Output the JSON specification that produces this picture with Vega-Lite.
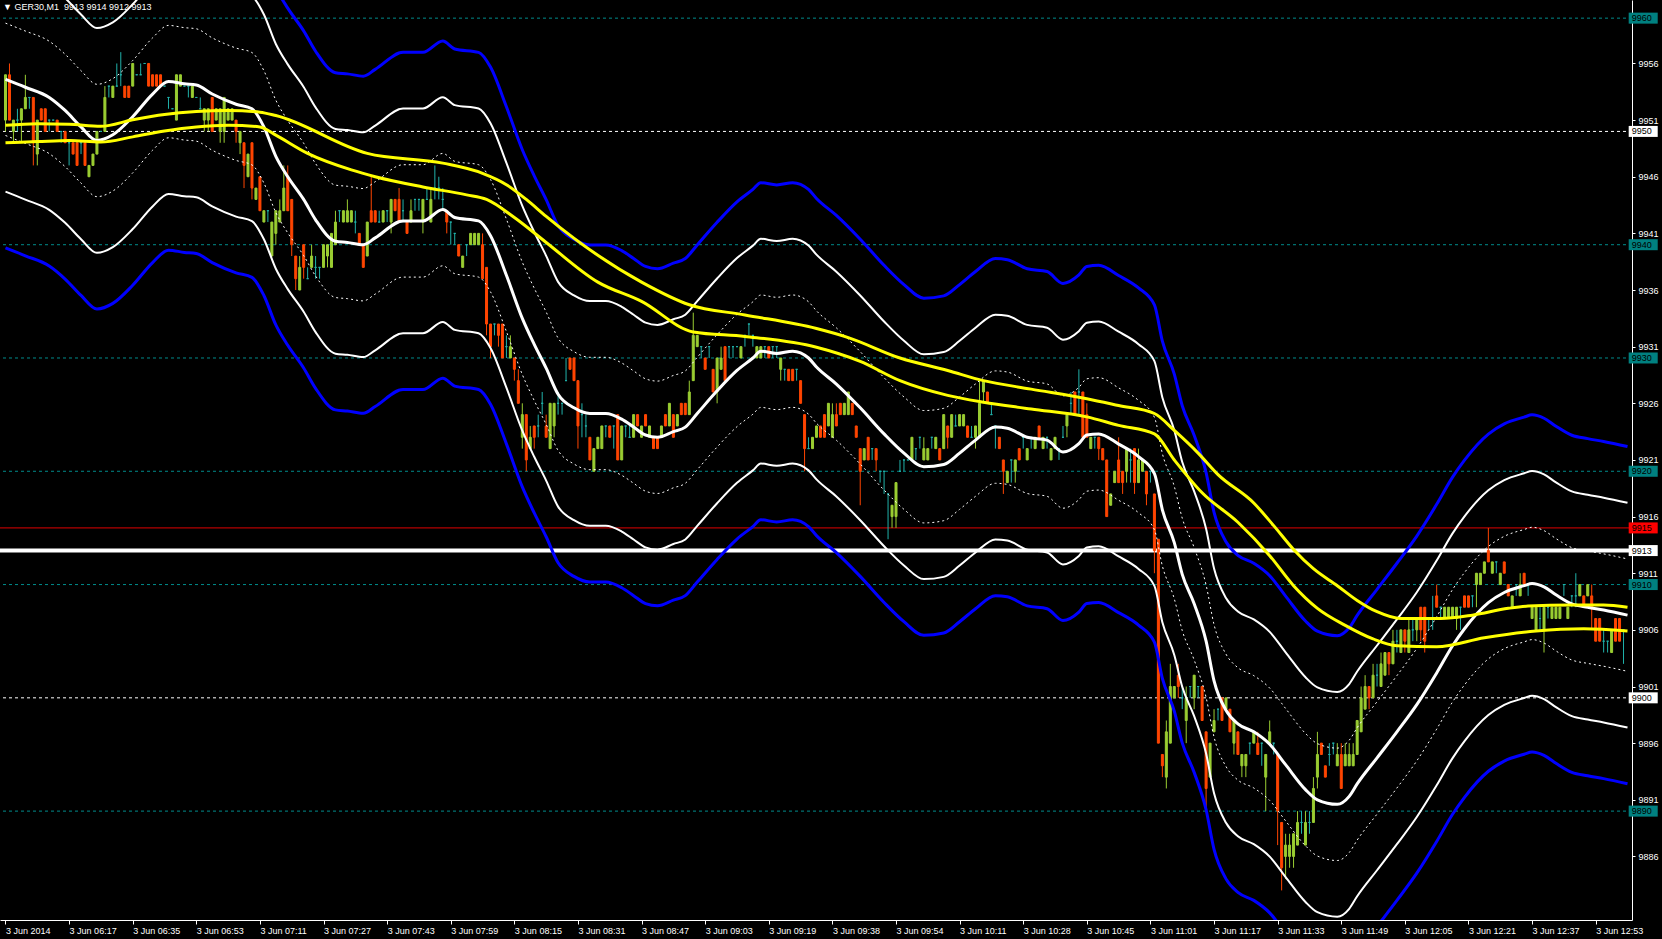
{
"$schema":"https://vega.github.io/schema/vega-lite/v6.json",
"width":1632,"height":920,
"autosize":{"type":"none"},
"padding":{"left":0,"top":0,"right":30,"bottom":19},
"background":"#000000",
"title":{"text":"▼ GER30,M1\u00a0\u00a09913 9914 9912 9913","anchor":"start","frame":"group","offset":-12,"dx":3,"font":"Liberation Sans","fontSize":9,"fontWeight":"normal","color":"#FFFFFF"},
"config":{"view":{"stroke":null},"axis":{"grid":false,"domainColor":"#FFFFFF","tickColor":"#FFFFFF","labelColor":"#FFFFFF","labelFont":"Liberation Sans","labelFontSize":9}},
"datasets":{
"lv":[{"p":9960,"t":"g"},{"p":9940,"t":"g"},{"p":9930,"t":"g"},{"p":9920,"t":"g"},{"p":9910,"t":"g"},{"p":9890,"t":"g"},{"p":9950,"t":"w"},{"p":9900,"t":"w"},{"p":9915,"t":"r"},{"p":9913,"t":"b"}],
"ya":[{"i":0,"v":9950.54},{"i":8,"v":9950.68},{"i":16,"v":9950.63},{"i":24,"v":9950.45},{"i":32,"v":9951.03},{"i":40,"v":9951.5},{"i":48,"v":9951.76},{"i":56,"v":9951.85},{"i":64,"v":9951.7},{"i":68,"v":9951.4},{"i":91,"v":9948.06},{"i":110,"v":9947.2},{"i":120,"v":9946.3},{"i":126,"v":9945.3},{"i":131,"v":9944.0},{"i":136,"v":9942.5},{"i":160,"v":9936.7},{"i":172,"v":9934.7},{"i":186,"v":9933.8},{"i":204,"v":9932.6},{"i":212,"v":9931.8},{"i":225,"v":9930.0},{"i":237,"v":9928.9},{"i":246,"v":9928.0},{"i":258,"v":9927.25},{"i":272,"v":9926.4},{"i":280,"v":9925.8},{"i":289,"v":9925.1},{"i":294,"v":9923.6},{"i":300,"v":9921.6},{"i":305,"v":9919.7},{"i":314,"v":9917.2},{"i":319,"v":9915.2},{"i":324,"v":9913.1},{"i":329,"v":9911.4},{"i":335,"v":9909.9},{"i":340,"v":9908.6},{"i":345,"v":9907.6},{"i":351,"v":9907.0},{"i":361,"v":9907.0},{"i":369,"v":9907.3},{"i":378,"v":9907.9},{"i":383,"v":9908.1},{"i":394,"v":9908.2},{"i":402,"v":9908.2},{"i":408,"v":9908.0}],
"yb":[{"i":0,"v":9949.0},{"i":8,"v":9949.1},{"i":16,"v":9949.2},{"i":24,"v":9949.06},{"i":32,"v":9949.52},{"i":40,"v":9950.04},{"i":48,"v":9950.4},{"i":56,"v":9950.54},{"i":64,"v":9950.4},{"i":68,"v":9949.67},{"i":76,"v":9948.06},{"i":87,"v":9946.6},{"i":93,"v":9946.0},{"i":105,"v":9945.1},{"i":116,"v":9944.4},{"i":121,"v":9944.0},{"i":128,"v":9942.4},{"i":136,"v":9940.2},{"i":149,"v":9936.7},{"i":160,"v":9935.0},{"i":173,"v":9932.3},{"i":186,"v":9931.9},{"i":204,"v":9930.95},{"i":215,"v":9929.7},{"i":225,"v":9928.0},{"i":237,"v":9926.7},{"i":246,"v":9926.1},{"i":258,"v":9925.5},{"i":272,"v":9924.8},{"i":280,"v":9924.05},{"i":289,"v":9923.3},{"i":294,"v":9921.0},{"i":301,"v":9918.1},{"i":310,"v":9915.5},{"i":318,"v":9912.55},{"i":324,"v":9909.9},{"i":330,"v":9907.9},{"i":337,"v":9906.4},{"i":344,"v":9905.2},{"i":350,"v":9904.6},{"i":360,"v":9904.5},{"i":372,"v":9905.3},{"i":385,"v":9905.9},{"i":397,"v":9906.1},{"i":408,"v":9905.9}],
"mid":[
{"i":0,"m":9954.6,"u1":9959.56,"d1":9949.64,"u2":9964.52,"d2":9944.68,"u3":9969.48,"d3":9939.72},
{"i":5,"m":9953.9,"u1":9958.86,"d1":9948.94,"u2":9963.82,"d2":9943.98,"u3":9968.78,"d3":9939.02},
{"i":11,"m":9953.0,"u1":9957.96,"d1":9948.04,"u2":9962.92,"d2":9943.08,"u3":9967.88,"d3":9938.12},
{"i":15,"m":9951.85,"u1":9956.81,"d1":9946.89,"u2":9961.77,"d2":9941.93,"u3":9966.73,"d3":9936.97},
{"i":19,"m":9950.4,"u1":9955.36,"d1":9945.44,"u2":9960.32,"d2":9940.48,"u3":9965.28,"d3":9935.52},
{"i":23,"m":9949.2,"u1":9954.16,"d1":9944.24,"u2":9959.12,"d2":9939.28,"u3":9964.08,"d3":9934.32},
{"i":27,"m":9949.7,"u1":9954.66,"d1":9944.74,"u2":9959.62,"d2":9939.78,"u3":9964.58,"d3":9934.82},
{"i":32,"m":9951.3,"u1":9956.26,"d1":9946.34,"u2":9961.22,"d2":9941.38,"u3":9966.18,"d3":9936.42},
{"i":37,"m":9953.3,"u1":9958.26,"d1":9948.34,"u2":9963.22,"d2":9943.38,"u3":9968.18,"d3":9938.42},
{"i":41,"m":9954.4,"u1":9959.36,"d1":9949.44,"u2":9964.32,"d2":9944.48,"u3":9969.28,"d3":9939.52},
{"i":45,"m":9954.2,"u1":9959.16,"d1":9949.24,"u2":9964.12,"d2":9944.28,"u3":9969.08,"d3":9939.32},
{"i":48,"m":9954.1,"u1":9959.06,"d1":9949.14,"u2":9964.02,"d2":9944.18,"u3":9968.98,"d3":9939.22},
{"i":52,"m":9953.3,"u1":9958.26,"d1":9948.34,"u2":9963.22,"d2":9943.38,"u3":9968.18,"d3":9938.42},
{"i":58,"m":9952.4,"u1":9957.36,"d1":9947.44,"u2":9962.32,"d2":9942.48,"u3":9967.28,"d3":9937.52},
{"i":62,"m":9952.0,"u1":9956.96,"d1":9947.04,"u2":9961.92,"d2":9942.08,"u3":9966.88,"d3":9937.12},
{"i":65,"m":9950.4,"u1":9955.36,"d1":9945.44,"u2":9960.32,"d2":9940.48,"u3":9965.28,"d3":9935.52},
{"i":68,"m":9947.8,"u1":9952.76,"d1":9942.84,"u2":9957.72,"d2":9937.88,"u3":9962.68,"d3":9932.92},
{"i":71,"m":9946.0,"u1":9950.96,"d1":9941.04,"u2":9955.92,"d2":9936.08,"u3":9960.88,"d3":9931.12},
{"i":75,"m":9944.0,"u1":9948.96,"d1":9939.04,"u2":9953.92,"d2":9934.08,"u3":9958.88,"d3":9929.12},
{"i":78,"m":9942.2,"u1":9947.16,"d1":9937.24,"u2":9952.12,"d2":9932.28,"u3":9957.08,"d3":9927.32},
{"i":83,"m":9940.3,"u1":9945.26,"d1":9935.34,"u2":9950.22,"d2":9930.38,"u3":9955.18,"d3":9925.42},
{"i":86,"m":9940.2,"u1":9945.16,"d1":9935.24,"u2":9950.12,"d2":9930.28,"u3":9955.08,"d3":9925.32},
{"i":90,"m":9940.0,"u1":9944.96,"d1":9935.04,"u2":9949.92,"d2":9930.08,"u3":9954.88,"d3":9925.12},
{"i":93,"m":9940.6,"u1":9945.56,"d1":9935.64,"u2":9950.52,"d2":9930.68,"u3":9955.48,"d3":9925.72},
{"i":100,"m":9942.1,"u1":9947.06,"d1":9937.14,"u2":9952.02,"d2":9932.18,"u3":9956.98,"d3":9927.22},
{"i":105,"m":9942.1,"u1":9947.06,"d1":9937.14,"u2":9952.02,"d2":9932.18,"u3":9956.98,"d3":9927.22},
{"i":110,"m":9943.1,"u1":9948.06,"d1":9938.14,"u2":9953.02,"d2":9933.18,"u3":9957.98,"d3":9928.22},
{"i":113,"m":9942.4,"u1":9947.36,"d1":9937.44,"u2":9952.32,"d2":9932.48,"u3":9957.28,"d3":9927.52},
{"i":119,"m":9942.1,"u1":9947.06,"d1":9937.14,"u2":9952.02,"d2":9932.18,"u3":9956.98,"d3":9927.22},
{"i":122,"m":9940.8,"u1":9945.76,"d1":9935.84,"u2":9950.72,"d2":9930.88,"u3":9955.68,"d3":9925.92},
{"i":126,"m":9937.3,"u1":9942.26,"d1":9932.34,"u2":9947.22,"d2":9927.38,"u3":9952.18,"d3":9922.42},
{"i":130,"m":9933.5,"u1":9938.46,"d1":9928.54,"u2":9943.42,"d2":9923.58,"u3":9948.38,"d3":9918.62},
{"i":133,"m":9931.2,"u1":9936.16,"d1":9926.24,"u2":9941.12,"d2":9921.28,"u3":9946.08,"d3":9916.32},
{"i":136,"m":9929.1,"u1":9934.06,"d1":9924.14,"u2":9939.02,"d2":9919.18,"u3":9943.98,"d3":9914.22},
{"i":139,"m":9926.8,"u1":9931.76,"d1":9921.84,"u2":9936.72,"d2":9916.88,"u3":9941.68,"d3":9911.92},
{"i":143,"m":9925.6,"u1":9930.56,"d1":9920.64,"u2":9935.52,"d2":9915.68,"u3":9940.48,"d3":9910.72},
{"i":147,"m":9925.1,"u1":9930.06,"d1":9920.14,"u2":9935.02,"d2":9915.18,"u3":9939.98,"d3":9910.22},
{"i":151,"m":9925.1,"u1":9930.06,"d1":9920.14,"u2":9935.02,"d2":9915.18,"u3":9939.98,"d3":9910.22},
{"i":155,"m":9924.6,"u1":9929.56,"d1":9919.64,"u2":9934.52,"d2":9914.68,"u3":9939.48,"d3":9909.72},
{"i":158,"m":9923.9,"u1":9928.86,"d1":9918.94,"u2":9933.82,"d2":9913.98,"u3":9938.78,"d3":9909.02},
{"i":161,"m":9923.2,"u1":9928.16,"d1":9918.24,"u2":9933.12,"d2":9913.28,"u3":9938.08,"d3":9908.32},
{"i":164,"m":9923.0,"u1":9927.96,"d1":9918.04,"u2":9932.92,"d2":9913.08,"u3":9937.88,"d3":9908.12},
{"i":168,"m":9923.5,"u1":9928.46,"d1":9918.54,"u2":9933.42,"d2":9913.58,"u3":9938.38,"d3":9908.62},
{"i":171,"m":9923.9,"u1":9928.86,"d1":9918.94,"u2":9933.82,"d2":9913.98,"u3":9938.78,"d3":9909.02},
{"i":174,"m":9925.1,"u1":9930.06,"d1":9920.14,"u2":9935.02,"d2":9915.18,"u3":9939.98,"d3":9910.22},
{"i":179,"m":9927.1,"u1":9932.06,"d1":9922.14,"u2":9937.02,"d2":9917.18,"u3":9941.98,"d3":9912.22},
{"i":184,"m":9928.9,"u1":9933.86,"d1":9923.94,"u2":9938.82,"d2":9918.98,"u3":9943.78,"d3":9914.02},
{"i":188,"m":9930.0,"u1":9934.96,"d1":9925.04,"u2":9939.92,"d2":9920.08,"u3":9944.88,"d3":9915.12},
{"i":190,"m":9930.6,"u1":9935.56,"d1":9925.64,"u2":9940.52,"d2":9920.68,"u3":9945.48,"d3":9915.72},
{"i":194,"m":9930.4,"u1":9935.36,"d1":9925.44,"u2":9940.32,"d2":9920.48,"u3":9945.28,"d3":9915.52},
{"i":198,"m":9930.6,"u1":9935.56,"d1":9925.64,"u2":9940.52,"d2":9920.68,"u3":9945.48,"d3":9915.72},
{"i":202,"m":9930.0,"u1":9934.96,"d1":9925.04,"u2":9939.92,"d2":9920.08,"u3":9944.88,"d3":9915.12},
{"i":204,"m":9929.2,"u1":9934.16,"d1":9924.24,"u2":9939.12,"d2":9919.28,"u3":9944.08,"d3":9914.32},
{"i":209,"m":9927.7,"u1":9932.66,"d1":9922.74,"u2":9937.62,"d2":9917.78,"u3":9942.58,"d3":9912.82},
{"i":215,"m":9925.6,"u1":9930.56,"d1":9920.64,"u2":9935.52,"d2":9915.68,"u3":9940.48,"d3":9910.72},
{"i":221,"m":9923.3,"u1":9928.26,"d1":9918.34,"u2":9933.22,"d2":9913.38,"u3":9938.18,"d3":9908.42},
{"i":226,"m":9921.6,"u1":9926.56,"d1":9916.64,"u2":9931.52,"d2":9911.68,"u3":9936.48,"d3":9906.72},
{"i":231,"m":9920.4,"u1":9925.36,"d1":9915.44,"u2":9930.32,"d2":9910.48,"u3":9935.28,"d3":9905.52},
{"i":236,"m":9920.6,"u1":9925.56,"d1":9915.64,"u2":9930.52,"d2":9910.68,"u3":9935.48,"d3":9905.72},
{"i":240,"m":9921.6,"u1":9926.56,"d1":9916.64,"u2":9931.52,"d2":9911.68,"u3":9936.48,"d3":9906.72},
{"i":244,"m":9922.75,"u1":9927.71,"d1":9917.79,"u2":9932.67,"d2":9912.83,"u3":9937.63,"d3":9907.87},
{"i":249,"m":9923.9,"u1":9928.86,"d1":9918.94,"u2":9933.82,"d2":9913.98,"u3":9938.78,"d3":9909.02},
{"i":252,"m":9923.8,"u1":9928.76,"d1":9918.84,"u2":9933.72,"d2":9913.88,"u3":9938.68,"d3":9908.92},
{"i":257,"m":9923.0,"u1":9927.96,"d1":9918.04,"u2":9932.92,"d2":9913.08,"u3":9937.88,"d3":9908.12},
{"i":262,"m":9922.75,"u1":9927.71,"d1":9917.79,"u2":9932.67,"d2":9912.83,"u3":9937.63,"d3":9907.87},
{"i":266,"m":9921.7,"u1":9926.66,"d1":9916.74,"u2":9931.62,"d2":9911.78,"u3":9936.58,"d3":9906.82},
{"i":270,"m":9922.45,"u1":9927.41,"d1":9917.49,"u2":9932.37,"d2":9912.53,"u3":9937.33,"d3":9907.57},
{"i":272,"m":9923.2,"u1":9928.16,"d1":9918.24,"u2":9933.12,"d2":9913.28,"u3":9938.08,"d3":9908.32},
{"i":275,"m":9923.3,"u1":9928.26,"d1":9918.34,"u2":9933.22,"d2":9913.38,"u3":9938.18,"d3":9908.42},
{"i":280,"m":9922.4,"u1":9927.36,"d1":9917.44,"u2":9932.32,"d2":9912.48,"u3":9937.28,"d3":9907.52},
{"i":285,"m":9921.3,"u1":9926.26,"d1":9916.34,"u2":9931.22,"d2":9911.38,"u3":9936.18,"d3":9906.42},
{"i":289,"m":9919.8,"u1":9924.76,"d1":9914.84,"u2":9929.72,"d2":9909.88,"u3":9934.68,"d3":9904.92},
{"i":291,"m":9916.6,"u1":9921.56,"d1":9911.64,"u2":9926.52,"d2":9906.68,"u3":9931.48,"d3":9901.72},
{"i":294,"m":9913.7,"u1":9918.66,"d1":9908.74,"u2":9923.62,"d2":9903.78,"u3":9928.58,"d3":9898.82},
{"i":296,"m":9910.9,"u1":9915.86,"d1":9905.94,"u2":9920.82,"d2":9900.98,"u3":9925.78,"d3":9896.02},
{"i":299,"m":9908.3,"u1":9913.26,"d1":9903.34,"u2":9918.22,"d2":9898.38,"u3":9923.18,"d3":9893.42},
{"i":302,"m":9905.0,"u1":9909.96,"d1":9900.04,"u2":9914.92,"d2":9895.08,"u3":9919.88,"d3":9890.12},
{"i":304,"m":9901.5,"u1":9906.46,"d1":9896.54,"u2":9911.42,"d2":9891.58,"u3":9916.38,"d3":9886.62},
{"i":307,"m":9898.9,"u1":9903.86,"d1":9893.94,"u2":9908.82,"d2":9888.98,"u3":9913.78,"d3":9884.02},
{"i":310,"m":9897.7,"u1":9902.66,"d1":9892.74,"u2":9907.62,"d2":9887.78,"u3":9912.58,"d3":9882.82},
{"i":314,"m":9897.0,"u1":9901.96,"d1":9892.04,"u2":9906.92,"d2":9887.08,"u3":9911.88,"d3":9882.12},
{"i":318,"m":9895.9,"u1":9900.86,"d1":9890.94,"u2":9905.82,"d2":9885.98,"u3":9910.78,"d3":9881.02},
{"i":322,"m":9894.1,"u1":9899.06,"d1":9889.14,"u2":9904.02,"d2":9884.18,"u3":9908.98,"d3":9879.22},
{"i":327,"m":9891.9,"u1":9896.86,"d1":9886.94,"u2":9901.82,"d2":9881.98,"u3":9906.78,"d3":9877.02},
{"i":330,"m":9891.0,"u1":9895.96,"d1":9886.04,"u2":9900.92,"d2":9881.08,"u3":9905.88,"d3":9876.12},
{"i":335,"m":9890.6,"u1":9895.56,"d1":9885.64,"u2":9900.52,"d2":9880.68,"u3":9905.48,"d3":9875.72},
{"i":338,"m":9891.3,"u1":9896.26,"d1":9886.34,"u2":9901.22,"d2":9881.38,"u3":9906.18,"d3":9876.42},
{"i":340,"m":9892.4,"u1":9897.36,"d1":9887.44,"u2":9902.32,"d2":9882.48,"u3":9907.28,"d3":9877.52},
{"i":345,"m":9894.7,"u1":9899.66,"d1":9889.74,"u2":9904.62,"d2":9884.78,"u3":9909.58,"d3":9879.82},
{"i":350,"m":9897.0,"u1":9901.96,"d1":9892.04,"u2":9906.92,"d2":9887.08,"u3":9911.88,"d3":9882.12},
{"i":355,"m":9899.4,"u1":9904.36,"d1":9894.44,"u2":9909.32,"d2":9889.48,"u3":9914.28,"d3":9884.52},
{"i":360,"m":9902.2,"u1":9907.16,"d1":9897.24,"u2":9912.12,"d2":9892.28,"u3":9917.08,"d3":9887.32},
{"i":364,"m":9904.6,"u1":9909.56,"d1":9899.64,"u2":9914.52,"d2":9894.68,"u3":9919.48,"d3":9889.72},
{"i":367,"m":9906.1,"u1":9911.06,"d1":9901.14,"u2":9916.02,"d2":9896.18,"u3":9920.98,"d3":9891.22},
{"i":373,"m":9908.4,"u1":9913.36,"d1":9903.44,"u2":9918.32,"d2":9898.48,"u3":9923.28,"d3":9893.52},
{"i":377,"m":9909.3,"u1":9914.26,"d1":9904.34,"u2":9919.22,"d2":9899.38,"u3":9924.18,"d3":9894.42},
{"i":382,"m":9909.9,"u1":9914.86,"d1":9904.94,"u2":9919.82,"d2":9899.98,"u3":9924.78,"d3":9895.02},
{"i":384,"m":9910.1,"u1":9915.06,"d1":9905.14,"u2":9920.02,"d2":9900.18,"u3":9924.98,"d3":9895.22},
{"i":387,"m":9909.8,"u1":9914.76,"d1":9904.84,"u2":9919.72,"d2":9899.88,"u3":9924.68,"d3":9894.92},
{"i":390,"m":9909.1,"u1":9914.06,"d1":9904.14,"u2":9919.02,"d2":9899.18,"u3":9923.98,"d3":9894.22},
{"i":394,"m":9908.3,"u1":9913.26,"d1":9903.34,"u2":9918.22,"d2":9898.38,"u3":9923.18,"d3":9893.42},
{"i":398,"m":9908.0,"u1":9912.96,"d1":9903.04,"u2":9917.92,"d2":9898.08,"u3":9922.88,"d3":9893.12},
{"i":402,"m":9907.75,"u1":9912.71,"d1":9902.79,"u2":9917.67,"d2":9897.83,"u3":9922.63,"d3":9892.87},
{"i":408,"m":9907.3,"u1":9912.26,"d1":9902.34,"u2":9917.22,"d2":9897.38,"u3":9922.18,"d3":9892.42}
],
"cdl":[
{"i":0,"o":9951,"h":9955,"l":9950,"c":9955},{"i":1,"o":9955,"h":9956,"l":9951,"c":9951},{"i":2,"o":9950,"h":9951,"l":9949,"c":9951},{"i":3,"o":9951,"h":9952,"l":9950,"c":9951},{"i":4,"o":9951,"h":9952,"l":9949,"c":9952},{"i":5,"o":9952,"h":9955,"l":9952,"c":9953},{"i":6,"o":9953,"h":9953,"l":9952,"c":9953},{"i":7,"o":9953,"h":9953,"l":9947,"c":9949},{"i":8,"o":9948,"h":9951,"l":9947,"c":9951},{"i":9,"o":9952,"h":9952,"l":9951,"c":9951},
{"i":10,"o":9952,"h":9952,"l":9950,"c":9950},{"i":11,"o":9951,"h":9951,"l":9950,"c":9951},{"i":12,"o":9951,"h":9951,"l":9951,"c":9951},{"i":13,"o":9951,"h":9951,"l":9950,"c":9950},{"i":14,"o":9950,"h":9950,"l":9949,"c":9950},{"i":15,"o":9950,"h":9950,"l":9949,"c":9949},{"i":16,"o":9949,"h":9949,"l":9947,"c":9949},{"i":17,"o":9949,"h":9949,"l":9948,"c":9948},{"i":18,"o":9949,"h":9949,"l":9947,"c":9947},{"i":19,"o":9949,"h":9949,"l":9948,"c":9949},
{"i":20,"o":9949,"h":9949,"l":9947,"c":9947},{"i":21,"o":9946,"h":9947,"l":9946,"c":9947},{"i":22,"o":9947,"h":9948,"l":9947,"c":9948},{"i":23,"o":9948,"h":9950,"l":9948,"c":9950},{"i":24,"o":9950,"h":9950,"l":9950,"c":9950},{"i":25,"o":9950,"h":9954,"l":9950,"c":9953},{"i":26,"o":9954,"h":9954,"l":9953,"c":9954},{"i":27,"o":9953,"h":9954,"l":9953,"c":9954},{"i":28,"o":9954,"h":9956,"l":9954,"c":9954},{"i":29,"o":9955,"h":9957,"l":9954,"c":9955},
{"i":30,"o":9954,"h":9954,"l":9953,"c":9953},{"i":31,"o":9954,"h":9954,"l":9953,"c":9953},{"i":32,"o":9954,"h":9956,"l":9954,"c":9956},{"i":33,"o":9955,"h":9955,"l":9955,"c":9955},{"i":34,"o":9955,"h":9956,"l":9955,"c":9955},{"i":35,"o":9956,"h":9956,"l":9956,"c":9956},{"i":36,"o":9956,"h":9956,"l":9954,"c":9954},{"i":37,"o":9955,"h":9955,"l":9954,"c":9954},{"i":38,"o":9955,"h":9955,"l":9954,"c":9954},{"i":39,"o":9955,"h":9955,"l":9954,"c":9954},
{"i":40,"o":9954,"h":9954,"l":9954,"c":9954},{"i":41,"o":9953,"h":9953,"l":9952,"c":9953},{"i":42,"o":9952,"h":9952,"l":9952,"c":9952},{"i":43,"o":9951,"h":9955,"l":9951,"c":9955},{"i":44,"o":9954,"h":9955,"l":9954,"c":9955},{"i":45,"o":9954,"h":9954,"l":9954,"c":9954},{"i":46,"o":9954,"h":9954,"l":9953,"c":9954},{"i":47,"o":9953,"h":9954,"l":9953,"c":9954},{"i":48,"o":9953,"h":9953,"l":9953,"c":9953},{"i":49,"o":9952,"h":9953,"l":9952,"c":9952},
{"i":50,"o":9951,"h":9952,"l":9950,"c":9952},{"i":51,"o":9951,"h":9952,"l":9950,"c":9952},{"i":52,"o":9953,"h":9953,"l":9950,"c":9950},{"i":53,"o":9951,"h":9952,"l":9951,"c":9952},{"i":54,"o":9950,"h":9952,"l":9949,"c":9952},{"i":55,"o":9950,"h":9953,"l":9949,"c":9953},{"i":56,"o":9951,"h":9952,"l":9951,"c":9952},{"i":57,"o":9951,"h":9952,"l":9951,"c":9952},{"i":58,"o":9951,"h":9951,"l":9949,"c":9950},{"i":59,"o":9949,"h":9950,"l":9948,"c":9950},
{"i":60,"o":9949,"h":9949,"l":9945,"c":9947},{"i":61,"o":9946,"h":9948,"l":9946,"c":9948},{"i":62,"o":9949,"h":9949,"l":9944,"c":9945},{"i":63,"o":9944,"h":9945,"l":9944,"c":9945},{"i":64,"o":9946,"h":9946,"l":9943,"c":9943},{"i":65,"o":9942,"h":9943,"l":9942,"c":9943},{"i":66,"o":9943,"h":9943,"l":9942,"c":9943},{"i":67,"o":9939,"h":9942,"l":9939,"c":9942},
{"i":68,"o":9941,"h":9943,"l":9940,"c":9943},{"i":69,"o":9942,"h":9944,"l":9942,"c":9943},{"i":70,"o":9943,"h":9947,"l":9943,"c":9945},{"i":71,"o":9946,"h":9947,"l":9943,"c":9943},{"i":72,"o":9944,"h":9944,"l":9939,"c":9940},{"i":73,"o":9939,"h":9939,"l":9936,"c":9937},{"i":74,"o":9936,"h":9939,"l":9936,"c":9938},{"i":75,"o":9940,"h":9940,"l":9937,"c":9938},{"i":76,"o":9937,"h":9938,"l":9937,"c":9937},{"i":77,"o":9938,"h":9940,"l":9938,"c":9939},
{"i":78,"o":9938,"h":9939,"l":9937,"c":9938},{"i":79,"o":9938,"h":9938,"l":9937,"c":9938},{"i":80,"o":9938,"h":9940,"l":9938,"c":9940},{"i":81,"o":9939,"h":9940,"l":9938,"c":9940},{"i":82,"o":9938,"h":9941,"l":9938,"c":9941},{"i":83,"o":9940,"h":9943,"l":9940,"c":9942},{"i":84,"o":9943,"h":9943,"l":9942,"c":9943},{"i":85,"o":9942,"h":9943,"l":9942,"c":9943},{"i":86,"o":9942,"h":9944,"l":9942,"c":9943},{"i":87,"o":9942,"h":9943,"l":9942,"c":9943},
{"i":88,"o":9942,"h":9943,"l":9941,"c":9942},{"i":89,"o":9941,"h":9941,"l":9940,"c":9940},{"i":90,"o":9940,"h":9940,"l":9938,"c":9938},{"i":91,"o":9939,"h":9942,"l":9939,"c":9942},{"i":92,"o":9943,"h":9946,"l":9942,"c":9942},{"i":93,"o":9943,"h":9943,"l":9942,"c":9942},{"i":94,"o":9942,"h":9943,"l":9942,"c":9942},{"i":95,"o":9942,"h":9943,"l":9942,"c":9943},{"i":96,"o":9943,"h":9943,"l":9942,"c":9943},{"i":97,"o":9942,"h":9944,"l":9941,"c":9944},
{"i":98,"o":9944,"h":9944,"l":9943,"c":9943},{"i":99,"o":9944,"h":9945,"l":9942,"c":9942},{"i":100,"o":9943,"h":9944,"l":9942,"c":9943},{"i":101,"o":9942,"h":9942,"l":9941,"c":9941},{"i":102,"o":9942,"h":9944,"l":9942,"c":9943},{"i":103,"o":9944,"h":9944,"l":9943,"c":9944},{"i":104,"o":9944,"h":9944,"l":9943,"c":9944},{"i":105,"o":9942,"h":9944,"l":9941,"c":9944},{"i":106,"o":9944,"h":9945,"l":9944,"c":9944},{"i":107,"o":9942,"h":9945,"l":9942,"c":9944},
{"i":108,"o":9945,"h":9947,"l":9944,"c":9945},{"i":109,"o":9945,"h":9946,"l":9944,"c":9945},{"i":110,"o":9944,"h":9945,"l":9943,"c":9944},{"i":111,"o":9943,"h":9943,"l":9941,"c":9942},{"i":112,"o":9942,"h":9942,"l":9940,"c":9942},{"i":113,"o":9941,"h":9941,"l":9940,"c":9941},{"i":114,"o":9940,"h":9940,"l":9939,"c":9939},{"i":115,"o":9938,"h":9939,"l":9938,"c":9939},{"i":116,"o":9940,"h":9940,"l":9939,"c":9940},{"i":117,"o":9940,"h":9941,"l":9940,"c":9941},
{"i":118,"o":9940,"h":9941,"l":9940,"c":9941},{"i":119,"o":9940,"h":9941,"l":9940,"c":9941},{"i":120,"o":9940,"h":9941,"l":9937,"c":9937},{"i":121,"o":9938,"h":9938,"l":9932,"c":9933},{"i":122,"o":9933,"h":9933,"l":9930,"c":9931},{"i":123,"o":9933,"h":9933,"l":9932,"c":9933},{"i":124,"o":9933,"h":9933,"l":9931,"c":9932},{"i":125,"o":9933,"h":9933,"l":9930,"c":9930},{"i":126,"o":9931,"h":9932,"l":9930,"c":9931},{"i":127,"o":9930,"h":9932,"l":9930,"c":9931},
{"i":128,"o":9930,"h":9930,"l":9928,"c":9929},{"i":129,"o":9928,"h":9929,"l":9926,"c":9926},{"i":130,"o":9923,"h":9926,"l":9922,"c":9925},{"i":131,"o":9925,"h":9925,"l":9920,"c":9921},{"i":132,"o":9922,"h":9924,"l":9922,"c":9923},{"i":133,"o":9924,"h":9924,"l":9922,"c":9923},{"i":134,"o":9924,"h":9925,"l":9923,"c":9924},{"i":135,"o":9926,"h":9927,"l":9925,"c":9926},
{"i":136,"o":9924,"h":9925,"l":9923,"c":9923},{"i":137,"o":9922,"h":9926,"l":9922,"c":9926},{"i":138,"o":9924,"h":9926,"l":9923,"c":9926},{"i":139,"o":9926,"h":9927,"l":9925,"c":9926},{"i":140,"o":9926,"h":9926,"l":9925,"c":9926},{"i":141,"o":9928,"h":9930,"l":9928,"c":9928},{"i":142,"o":9930,"h":9930,"l":9929,"c":9929},{"i":143,"o":9930,"h":9930,"l":9928,"c":9928},{"i":144,"o":9928,"h":9928,"l":9922,"c":9924},{"i":145,"o":9925,"h":9926,"l":9923,"c":9925},
{"i":146,"o":9924,"h":9925,"l":9923,"c":9924},{"i":147,"o":9923,"h":9923,"l":9921,"c":9921},{"i":148,"o":9920,"h":9922,"l":9920,"c":9922},{"i":149,"o":9922,"h":9923,"l":9922,"c":9923},{"i":150,"o":9922,"h":9924,"l":9922,"c":9924},{"i":151,"o":9924,"h":9924,"l":9923,"c":9924},{"i":152,"o":9924,"h":9924,"l":9923,"c":9923},{"i":153,"o":9924,"h":9924,"l":9922,"c":9924},{"i":154,"o":9925,"h":9925,"l":9921,"c":9921},{"i":155,"o":9921,"h":9924,"l":9921,"c":9924},
{"i":156,"o":9924,"h":9924,"l":9923,"c":9924},{"i":157,"o":9923,"h":9924,"l":9923,"c":9923},{"i":158,"o":9923,"h":9925,"l":9923,"c":9925},{"i":159,"o":9925,"h":9925,"l":9924,"c":9924},{"i":160,"o":9923,"h":9924,"l":9923,"c":9924},{"i":161,"o":9925,"h":9925,"l":9924,"c":9924},{"i":162,"o":9923,"h":9924,"l":9923,"c":9924},{"i":163,"o":9923,"h":9923,"l":9922,"c":9922},{"i":164,"o":9923,"h":9923,"l":9922,"c":9922},{"i":165,"o":9923,"h":9924,"l":9923,"c":9924},
{"i":166,"o":9925,"h":9925,"l":9924,"c":9924},{"i":167,"o":9924,"h":9926,"l":9924,"c":9926},{"i":168,"o":9925,"h":9925,"l":9923,"c":9923},{"i":169,"o":9924,"h":9925,"l":9924,"c":9925},{"i":170,"o":9926,"h":9926,"l":9925,"c":9925},{"i":171,"o":9926,"h":9926,"l":9925,"c":9925},{"i":172,"o":9925,"h":9928,"l":9925,"c":9927},{"i":173,"o":9928,"h":9934,"l":9928,"c":9932},{"i":174,"o":9931,"h":9932,"l":9931,"c":9932},{"i":175,"o":9931,"h":9931,"l":9930,"c":9931},
{"i":176,"o":9930,"h":9930,"l":9929,"c":9929},{"i":177,"o":9931,"h":9931,"l":9930,"c":9931},{"i":178,"o":9929,"h":9929,"l":9927,"c":9927},{"i":179,"o":9927,"h":9930,"l":9926,"c":9930},{"i":180,"o":9929,"h":9931,"l":9929,"c":9930},{"i":181,"o":9931,"h":9931,"l":9928,"c":9928},{"i":182,"o":9931,"h":9931,"l":9930,"c":9931},{"i":183,"o":9931,"h":9931,"l":9930,"c":9931},{"i":184,"o":9931,"h":9931,"l":9931,"c":9931},{"i":185,"o":9930,"h":9931,"l":9930,"c":9931},
{"i":186,"o":9932,"h":9932,"l":9931,"c":9932},{"i":187,"o":9933,"h":9933,"l":9932,"c":9933},{"i":188,"o":9932,"h":9932,"l":9931,"c":9932},{"i":189,"o":9930,"h":9931,"l":9930,"c":9931},{"i":190,"o":9930,"h":9931,"l":9930,"c":9931},{"i":191,"o":9931,"h":9931,"l":9930,"c":9931},{"i":192,"o":9931,"h":9931,"l":9930,"c":9930},{"i":193,"o":9931,"h":9931,"l":9930,"c":9931},{"i":194,"o":9931,"h":9931,"l":9930,"c":9931},{"i":195,"o":9929,"h":9930,"l":9928,"c":9930},
{"i":196,"o":9929,"h":9929,"l":9928,"c":9929},{"i":197,"o":9929,"h":9929,"l":9928,"c":9928},{"i":198,"o":9929,"h":9929,"l":9928,"c":9928},{"i":199,"o":9929,"h":9929,"l":9928,"c":9929},{"i":200,"o":9928,"h":9928,"l":9926,"c":9926},{"i":201,"o":9925,"h":9925,"l":9920,"c":9922},{"i":202,"o":9922,"h":9923,"l":9922,"c":9922},{"i":203,"o":9922,"h":9923,"l":9922,"c":9923},
{"i":204,"o":9923,"h":9924,"l":9923,"c":9924},{"i":205,"o":9924,"h":9924,"l":9923,"c":9923},{"i":206,"o":9925,"h":9925,"l":9923,"c":9923},{"i":207,"o":9924,"h":9926,"l":9924,"c":9926},{"i":208,"o":9923,"h":9926,"l":9923,"c":9925},{"i":209,"o":9925,"h":9926,"l":9924,"c":9924},{"i":210,"o":9926,"h":9926,"l":9925,"c":9925},{"i":211,"o":9925,"h":9926,"l":9925,"c":9926},{"i":212,"o":9925,"h":9927,"l":9925,"c":9927},{"i":213,"o":9926,"h":9926,"l":9925,"c":9925},
{"i":214,"o":9924,"h":9924,"l":9923,"c":9923},{"i":215,"o":9922,"h":9922,"l":9917,"c":9920},{"i":216,"o":9921,"h":9922,"l":9921,"c":9922},{"i":217,"o":9923,"h":9923,"l":9921,"c":9921},{"i":218,"o":9922,"h":9922,"l":9921,"c":9922},{"i":219,"o":9922,"h":9922,"l":9920,"c":9921},{"i":220,"o":9920,"h":9920,"l":9919,"c":9920},{"i":221,"o":9920,"h":9920,"l":9918,"c":9920},{"i":222,"o":9918,"h":9918,"l":9914,"c":9918},{"i":223,"o":9916,"h":9917,"l":9915,"c":9917},
{"i":224,"o":9916,"h":9919,"l":9915,"c":9919},{"i":225,"o":9920,"h":9921,"l":9920,"c":9920},{"i":226,"o":9921,"h":9921,"l":9920,"c":9921},{"i":227,"o":9921,"h":9921,"l":9921,"c":9921},{"i":228,"o":9921,"h":9923,"l":9921,"c":9923},{"i":229,"o":9922,"h":9922,"l":9921,"c":9922},{"i":230,"o":9923,"h":9923,"l":9922,"c":9923},{"i":231,"o":9921,"h":9923,"l":9921,"c":9922},{"i":232,"o":9921,"h":9922,"l":9921,"c":9922},{"i":233,"o":9923,"h":9923,"l":9922,"c":9923},
{"i":234,"o":9922,"h":9923,"l":9922,"c":9923},{"i":235,"o":9922,"h":9922,"l":9921,"c":9921},{"i":236,"o":9922,"h":9925,"l":9922,"c":9925},{"i":237,"o":9924,"h":9924,"l":9922,"c":9923},{"i":238,"o":9923,"h":9925,"l":9923,"c":9925},{"i":239,"o":9924,"h":9925,"l":9924,"c":9924},{"i":240,"o":9924,"h":9925,"l":9924,"c":9925},{"i":241,"o":9924,"h":9925,"l":9924,"c":9925},{"i":242,"o":9924,"h":9924,"l":9923,"c":9923},{"i":243,"o":9923,"h":9924,"l":9923,"c":9923},
{"i":244,"o":9923,"h":9924,"l":9922,"c":9924},{"i":245,"o":9923,"h":9928,"l":9923,"c":9926},{"i":246,"o":9927,"h":9928,"l":9926,"c":9928},{"i":247,"o":9927,"h":9927,"l":9926,"c":9926},{"i":248,"o":9925,"h":9926,"l":9925,"c":9925},{"i":249,"o":9924,"h":9924,"l":9922,"c":9924},{"i":250,"o":9923,"h":9923,"l":9922,"c":9922},{"i":251,"o":9921,"h":9921,"l":9918,"c":9920},{"i":252,"o":9919,"h":9920,"l":9919,"c":9920},{"i":253,"o":9921,"h":9921,"l":9919,"c":9921},
{"i":254,"o":9920,"h":9921,"l":9919,"c":9921},{"i":255,"o":9922,"h":9922,"l":9921,"c":9921},{"i":256,"o":9923,"h":9923,"l":9922,"c":9923},{"i":257,"o":9921,"h":9922,"l":9921,"c":9922},{"i":258,"o":9923,"h":9923,"l":9922,"c":9923},{"i":259,"o":9922,"h":9923,"l":9922,"c":9923},{"i":260,"o":9924,"h":9924,"l":9923,"c":9923},{"i":261,"o":9922,"h":9923,"l":9922,"c":9923},{"i":262,"o":9923,"h":9923,"l":9922,"c":9923},{"i":263,"o":9921,"h":9922,"l":9921,"c":9922},
{"i":264,"o":9922,"h":9923,"l":9922,"c":9923},{"i":265,"o":9922,"h":9922,"l":9921,"c":9922},{"i":266,"o":9923,"h":9924,"l":9923,"c":9923},{"i":267,"o":9924,"h":9925,"l":9923,"c":9925},{"i":268,"o":9926,"h":9927,"l":9925,"c":9926},{"i":269,"o":9927,"h":9927,"l":9925,"c":9925},{"i":270,"o":9927,"h":9929,"l":9925,"c":9927},{"i":271,"o":9927,"h":9927,"l":9923,"c":9923},
{"i":272,"o":9925,"h":9926,"l":9923,"c":9923},{"i":273,"o":9922,"h":9923,"l":9922,"c":9923},{"i":274,"o":9923,"h":9923,"l":9922,"c":9923},{"i":275,"o":9923,"h":9923,"l":9921,"c":9922},{"i":276,"o":9922,"h":9922,"l":9921,"c":9921},{"i":277,"o":9921,"h":9921,"l":9916,"c":9916},{"i":278,"o":9917,"h":9918,"l":9917,"c":9918},{"i":279,"o":9919,"h":9920,"l":9919,"c":9920},{"i":280,"o":9921,"h":9923,"l":9919,"c":9919},{"i":281,"o":9920,"h":9920,"l":9918,"c":9919},
{"i":282,"o":9920,"h":9922,"l":9919,"c":9922},{"i":283,"o":9921,"h":9922,"l":9919,"c":9921},{"i":284,"o":9922,"h":9922,"l":9918,"c":9919},{"i":285,"o":9919,"h":9922,"l":9919,"c":9921},{"i":286,"o":9920,"h":9921,"l":9920,"c":9921},{"i":287,"o":9920,"h":9920,"l":9917,"c":9918},{"i":288,"o":9920,"h":9920,"l":9919,"c":9920},{"i":289,"o":9918,"h":9918,"l":9911,"c":9913},{"i":290,"o":9914,"h":9914,"l":9896,"c":9896},{"i":291,"o":9895,"h":9895,"l":9893,"c":9894},
{"i":292,"o":9893,"h":9898,"l":9892,"c":9897},{"i":293,"o":9896,"h":9903,"l":9896,"c":9901},{"i":294,"o":9900,"h":9901,"l":9900,"c":9901},{"i":295,"o":9902,"h":9903,"l":9900,"c":9901},{"i":296,"o":9900,"h":9901,"l":9899,"c":9900},{"i":297,"o":9898,"h":9901,"l":9896,"c":9900},{"i":298,"o":9901,"h":9901,"l":9900,"c":9901},{"i":299,"o":9900,"h":9902,"l":9899,"c":9902},{"i":300,"o":9901,"h":9901,"l":9900,"c":9901},{"i":301,"o":9901,"h":9901,"l":9898,"c":9898},
{"i":302,"o":9897,"h":9897,"l":9890,"c":9892},{"i":303,"o":9893,"h":9896,"l":9893,"c":9896},{"i":304,"o":9897,"h":9899,"l":9897,"c":9898},{"i":305,"o":9899,"h":9899,"l":9898,"c":9899},{"i":306,"o":9900,"h":9900,"l":9898,"c":9898},{"i":307,"o":9899,"h":9900,"l":9899,"c":9900},{"i":308,"o":9899,"h":9899,"l":9897,"c":9897},{"i":309,"o":9896,"h":9898,"l":9895,"c":9898},{"i":310,"o":9897,"h":9897,"l":9895,"c":9895},{"i":311,"o":9894,"h":9895,"l":9893,"c":9895},
{"i":312,"o":9894,"h":9895,"l":9893,"c":9895},{"i":313,"o":9896,"h":9896,"l":9895,"c":9896},{"i":314,"o":9896,"h":9897,"l":9896,"c":9897},{"i":315,"o":9896,"h":9897,"l":9895,"c":9895},{"i":316,"o":9896,"h":9896,"l":9894,"c":9896},{"i":317,"o":9893,"h":9895,"l":9890,"c":9895},{"i":318,"o":9896,"h":9898,"l":9896,"c":9897},{"i":319,"o":9896,"h":9896,"l":9895,"c":9896},{"i":320,"o":9895,"h":9895,"l":9887,"c":9890},{"i":321,"o":9889,"h":9889,"l":9883,"c":9885},
{"i":322,"o":9886,"h":9888,"l":9884,"c":9887},{"i":323,"o":9886,"h":9888,"l":9885,"c":9887},{"i":324,"o":9886,"h":9888,"l":9885,"c":9888},{"i":325,"o":9887,"h":9890,"l":9887,"c":9889},{"i":326,"o":9889,"h":9890,"l":9888,"c":9889},{"i":327,"o":9887,"h":9890,"l":9887,"c":9889},{"i":328,"o":9889,"h":9890,"l":9888,"c":9889},{"i":329,"o":9889,"h":9893,"l":9889,"c":9892},{"i":330,"o":9893,"h":9897,"l":9892,"c":9895},{"i":331,"o":9896,"h":9896,"l":9895,"c":9895},
{"i":332,"o":9894,"h":9894,"l":9893,"c":9893},{"i":333,"o":9895,"h":9896,"l":9894,"c":9895},{"i":334,"o":9896,"h":9896,"l":9895,"c":9896},{"i":335,"o":9894,"h":9896,"l":9894,"c":9895},{"i":336,"o":9895,"h":9896,"l":9892,"c":9892},{"i":337,"o":9894,"h":9896,"l":9894,"c":9895},{"i":338,"o":9894,"h":9896,"l":9894,"c":9895},{"i":339,"o":9894,"h":9896,"l":9894,"c":9895},
{"i":340,"o":9895,"h":9898,"l":9895,"c":9898},{"i":341,"o":9897,"h":9901,"l":9897,"c":9900},{"i":342,"o":9899,"h":9902,"l":9899,"c":9901},{"i":343,"o":9901,"h":9901,"l":9899,"c":9900},{"i":344,"o":9900,"h":9903,"l":9900,"c":9902},{"i":345,"o":9902,"h":9903,"l":9901,"c":9902},{"i":346,"o":9901,"h":9904,"l":9901,"c":9903},{"i":347,"o":9902,"h":9904,"l":9902,"c":9904},{"i":348,"o":9904,"h":9904,"l":9902,"c":9903},{"i":349,"o":9903,"h":9906,"l":9903,"c":9905},
{"i":350,"o":9905,"h":9906,"l":9904,"c":9905},{"i":351,"o":9904,"h":9906,"l":9904,"c":9906},{"i":352,"o":9906,"h":9906,"l":9904,"c":9905},{"i":353,"o":9904,"h":9907,"l":9904,"c":9906},{"i":354,"o":9906,"h":9907,"l":9905,"c":9906},{"i":355,"o":9906,"h":9907,"l":9905,"c":9907},{"i":356,"o":9908,"h":9908,"l":9905,"c":9906},{"i":357,"o":9908,"h":9908,"l":9904,"c":9905},{"i":358,"o":9907,"h":9907,"l":9906,"c":9907},{"i":359,"o":9907,"h":9909,"l":9906,"c":9907},
{"i":360,"o":9909,"h":9910,"l":9908,"c":9908},{"i":361,"o":9908,"h":9908,"l":9907,"c":9908},{"i":362,"o":9907,"h":9908,"l":9907,"c":9908},{"i":363,"o":9907,"h":9908,"l":9907,"c":9908},{"i":364,"o":9907,"h":9908,"l":9907,"c":9908},{"i":365,"o":9907,"h":9908,"l":9906,"c":9908},{"i":366,"o":9908,"h":9908,"l":9906,"c":9908},{"i":367,"o":9909,"h":9909,"l":9908,"c":9908},{"i":368,"o":9909,"h":9909,"l":9908,"c":9908},{"i":369,"o":9909,"h":9909,"l":9908,"c":9909},
{"i":370,"o":9910,"h":9911,"l":9908,"c":9911},{"i":371,"o":9910,"h":9911,"l":9910,"c":9911},{"i":372,"o":9911,"h":9912,"l":9911,"c":9912},{"i":373,"o":9913,"h":9915,"l":9912,"c":9912},{"i":374,"o":9911,"h":9912,"l":9911,"c":9912},{"i":375,"o":9912,"h":9912,"l":9911,"c":9912},{"i":376,"o":9910,"h":9911,"l":9910,"c":9911},{"i":377,"o":9912,"h":9912,"l":9911,"c":9911},{"i":378,"o":9910,"h":9910,"l":9909,"c":9909},{"i":379,"o":9908,"h":9909,"l":9908,"c":9909},
{"i":380,"o":9910,"h":9910,"l":9909,"c":9910},{"i":381,"o":9909,"h":9911,"l":9909,"c":9910},{"i":382,"o":9911,"h":9911,"l":9910,"c":9910},{"i":383,"o":9910,"h":9910,"l":9909,"c":9910},{"i":384,"o":9907,"h":9908,"l":9907,"c":9908},{"i":385,"o":9906,"h":9908,"l":9906,"c":9908},{"i":386,"o":9907,"h":9908,"l":9906,"c":9907},{"i":387,"o":9906,"h":9908,"l":9904,"c":9908},{"i":388,"o":9908,"h":9908,"l":9907,"c":9908},{"i":389,"o":9907,"h":9908,"l":9907,"c":9908},
{"i":390,"o":9907,"h":9908,"l":9907,"c":9908},{"i":391,"o":9907,"h":9908,"l":9907,"c":9908},{"i":392,"o":9910,"h":9910,"l":9909,"c":9910},{"i":393,"o":9907,"h":9908,"l":9907,"c":9908},{"i":394,"o":9909,"h":9909,"l":9908,"c":9909},{"i":395,"o":9909,"h":9911,"l":9908,"c":9909},{"i":396,"o":9909,"h":9910,"l":9909,"c":9910},{"i":397,"o":9909,"h":9909,"l":9908,"c":9908},{"i":398,"o":9909,"h":9910,"l":9909,"c":9910},{"i":399,"o":9909,"h":9910,"l":9906,"c":9908},
{"i":400,"o":9907,"h":9907,"l":9905,"c":9905},{"i":401,"o":9907,"h":9907,"l":9905,"c":9905},{"i":402,"o":9905,"h":9906,"l":9904,"c":9905},{"i":403,"o":9905,"h":9905,"l":9904,"c":9905},{"i":404,"o":9904,"h":9906,"l":9904,"c":9906},{"i":405,"o":9907,"h":9907,"l":9905,"c":9905},{"i":406,"o":9907,"h":9907,"l":9905,"c":9905},{"i":407,"o":9906,"h":9906,"l":9903,"c":9906}
]},
"layer":[
{"data":{"name":"lv"},"transform":[{"filter":"datum.t=='g'"}],"mark":{"type":"rule","stroke":"#008B8B","strokeWidth":1,"strokeDash":[3,3]},
 "encoding":{"y":{"field":"p","type":"quantitative","scale":{"domain":[9880.83,9961.16],"nice":false,"zero":false},"title":null,
  "axis":{"orient":"right","values":[9886,9891,9896,9901,9906,9911,9916,9921,9926,9931,9936,9941,9946,9951,9956],"format":"d","tickSize":3,"labelPadding":3,"labelAlign":"left","labelBaseline":"middle","labelOverlap":false,"labelBound":false,"labelFlush":false,"grid":false,"title":null}}}},
{"data":{"name":"lv"},"transform":[{"filter":"datum.t=='w'"}],"mark":{"type":"rule","stroke":"#FFFFFF","strokeWidth":1,"strokeDash":[3,3]},
 "encoding":{"y":{"field":"p","type":"quantitative","scale":{"domain":[9880.83,9961.16],"nice":false,"zero":false},"title":null}}},
{"data":{"name":"lv"},"transform":[{"filter":"datum.t=='r'"}],"mark":{"type":"rule","stroke":"#E00000","strokeWidth":1},
 "encoding":{"y":{"field":"p","type":"quantitative","scale":{"domain":[9880.83,9961.16],"nice":false,"zero":false},"title":null}}},
{"data":{"name":"lv"},"transform":[{"filter":"datum.t=='b'"}],"mark":{"type":"rule","stroke":"#FFFFFF","strokeWidth":4},
 "encoding":{"y":{"field":"p","type":"quantitative","scale":{"domain":[9880.83,9961.16],"nice":false,"zero":false},"title":null}}},
{"data":{"name":"cdl"},"mark":{"type":"rule","strokeWidth":1},
 "encoding":{"x":{"field":"i","type":"quantitative","scale":{"domain":[-0.125,407.875],"nice":false,"zero":false},"title":null,
   "axis":{"orient":"bottom","values":[0,16,32,48,64,80,96,112,128,144,160,176,192,208,224,240,256,272,288,304,320,336,352,368,384,400],
   "labelExpr":"['3 Jun 2014','3 Jun 06:17','3 Jun 06:35','3 Jun 06:53','3 Jun 07:11','3 Jun 07:27','3 Jun 07:43','3 Jun 07:59','3 Jun 08:15','3 Jun 08:31','3 Jun 08:47','3 Jun 09:03','3 Jun 09:19','3 Jun 09:38','3 Jun 09:54','3 Jun 10:11','3 Jun 10:28','3 Jun 10:45','3 Jun 11:01','3 Jun 11:17','3 Jun 11:33','3 Jun 11:49','3 Jun 12:05','3 Jun 12:21','3 Jun 12:37','3 Jun 12:53'][round(datum.value/16)]",
   "tickSize":4,"labelPadding":2,"labelAlign":"left","labelBaseline":"top","labelDx":-1,"labelOverlap":false,"labelBound":false,"labelFlush":false,"grid":false,"title":null}},
  "y":{"field":"l","type":"quantitative","scale":{"domain":[9880.83,9961.16],"nice":false,"zero":false},"title":null},
  "y2":{"field":"h"},
  "color":{"condition":[{"test":"datum.c>datum.o","value":"#9ACD32"},{"test":"datum.c<datum.o","value":"#FF4500"}],"value":"#20B2AA"}}},
{"data":{"name":"cdl"},"mark":{"type":"bar","width":2,"strokeWidth":1},
 "encoding":{"x":{"field":"i","type":"quantitative","scale":{"domain":[-0.125,407.875],"nice":false,"zero":false},"title":null},
  "y":{"field":"o","type":"quantitative","scale":{"domain":[9880.83,9961.16],"nice":false,"zero":false},"title":null},
  "y2":{"field":"c"},
  "fill":{"condition":[{"test":"datum.c>datum.o","value":"#9ACD32"},{"test":"datum.c<datum.o","value":"#FF4500"}],"value":"#20B2AA"},
  "stroke":{"condition":[{"test":"datum.c>datum.o","value":"#9ACD32"},{"test":"datum.c<datum.o","value":"#FF4500"}],"value":"#20B2AA"}}},
{"data":{"name":"mid"},"mark":{"type":"line","stroke":"#0000FF","strokeWidth":3,"interpolate":"monotone","clip":true},
 "encoding":{"x":{"field":"i","type":"quantitative","scale":{"domain":[-0.125,407.875],"nice":false,"zero":false},"title":null},"y":{"field":"u3","type":"quantitative","scale":{"domain":[9880.83,9961.16],"nice":false,"zero":false},"title":null}}},
{"data":{"name":"mid"},"mark":{"type":"line","stroke":"#0000FF","strokeWidth":3,"interpolate":"monotone","clip":true},
 "encoding":{"x":{"field":"i","type":"quantitative","scale":{"domain":[-0.125,407.875],"nice":false,"zero":false},"title":null},"y":{"field":"d3","type":"quantitative","scale":{"domain":[9880.83,9961.16],"nice":false,"zero":false},"title":null}}},
{"data":{"name":"mid"},"mark":{"type":"line","stroke":"#FFFFFF","strokeWidth":2,"interpolate":"monotone","clip":true},
 "encoding":{"x":{"field":"i","type":"quantitative","scale":{"domain":[-0.125,407.875],"nice":false,"zero":false},"title":null},"y":{"field":"u2","type":"quantitative","scale":{"domain":[9880.83,9961.16],"nice":false,"zero":false},"title":null}}},
{"data":{"name":"mid"},"mark":{"type":"line","stroke":"#FFFFFF","strokeWidth":2,"interpolate":"monotone","clip":true},
 "encoding":{"x":{"field":"i","type":"quantitative","scale":{"domain":[-0.125,407.875],"nice":false,"zero":false},"title":null},"y":{"field":"d2","type":"quantitative","scale":{"domain":[9880.83,9961.16],"nice":false,"zero":false},"title":null}}},
{"data":{"name":"mid"},"mark":{"type":"line","stroke":"#FFFFFF","strokeWidth":1,"strokeDash":[2,3],"interpolate":"monotone","clip":true},
 "encoding":{"x":{"field":"i","type":"quantitative","scale":{"domain":[-0.125,407.875],"nice":false,"zero":false},"title":null},"y":{"field":"u1","type":"quantitative","scale":{"domain":[9880.83,9961.16],"nice":false,"zero":false},"title":null}}},
{"data":{"name":"mid"},"mark":{"type":"line","stroke":"#FFFFFF","strokeWidth":1,"strokeDash":[2,3],"interpolate":"monotone","clip":true},
 "encoding":{"x":{"field":"i","type":"quantitative","scale":{"domain":[-0.125,407.875],"nice":false,"zero":false},"title":null},"y":{"field":"d1","type":"quantitative","scale":{"domain":[9880.83,9961.16],"nice":false,"zero":false},"title":null}}},
{"data":{"name":"mid"},"mark":{"type":"line","stroke":"#FFFFFF","strokeWidth":3,"interpolate":"monotone","clip":true},
 "encoding":{"x":{"field":"i","type":"quantitative","scale":{"domain":[-0.125,407.875],"nice":false,"zero":false},"title":null},"y":{"field":"m","type":"quantitative","scale":{"domain":[9880.83,9961.16],"nice":false,"zero":false},"title":null}}},
{"data":{"name":"ya"},"mark":{"type":"line","stroke":"#FFFF00","strokeWidth":3,"interpolate":"monotone","clip":true},
 "encoding":{"x":{"field":"i","type":"quantitative","scale":{"domain":[-0.125,407.875],"nice":false,"zero":false},"title":null},"y":{"field":"v","type":"quantitative","scale":{"domain":[9880.83,9961.16],"nice":false,"zero":false},"title":null}}},
{"data":{"name":"yb"},"mark":{"type":"line","stroke":"#FFFF00","strokeWidth":3,"interpolate":"monotone","clip":true},
 "encoding":{"x":{"field":"i","type":"quantitative","scale":{"domain":[-0.125,407.875],"nice":false,"zero":false},"title":null},"y":{"field":"v","type":"quantitative","scale":{"domain":[9880.83,9961.16],"nice":false,"zero":false},"title":null}}},
{"data":{"name":"lv"},"mark":{"type":"bar","orient":"horizontal"},
 "encoding":{"x":{"datum":408.3,"type":"quantitative","scale":{"domain":[-0.125,407.875],"nice":false,"zero":false},"title":null},"x2":{"datum":415.6},
  "y":{"field":"p","type":"quantitative","scale":{"domain":[9880.83,9961.16],"nice":false,"zero":false},"title":null},
  "size":{"value":11},
  "color":{"field":"t","type":"nominal","scale":{"domain":["g","w","r","b"],"range":["#008080","#FFFFFF","#FF0000","#FFFFFF"]},"legend":null}}},
{"data":{"name":"lv"},"mark":{"type":"text","align":"left","baseline":"middle","dx":3,"font":"Liberation Sans","fontSize":9,"fill":"#000000"},
 "encoding":{"x":{"datum":408.3,"type":"quantitative","scale":{"domain":[-0.125,407.875],"nice":false,"zero":false},"title":null},
  "y":{"field":"p","type":"quantitative","scale":{"domain":[9880.83,9961.16],"nice":false,"zero":false},"title":null},
  "text":{"field":"p","type":"quantitative","format":"d"}}}
]
}
